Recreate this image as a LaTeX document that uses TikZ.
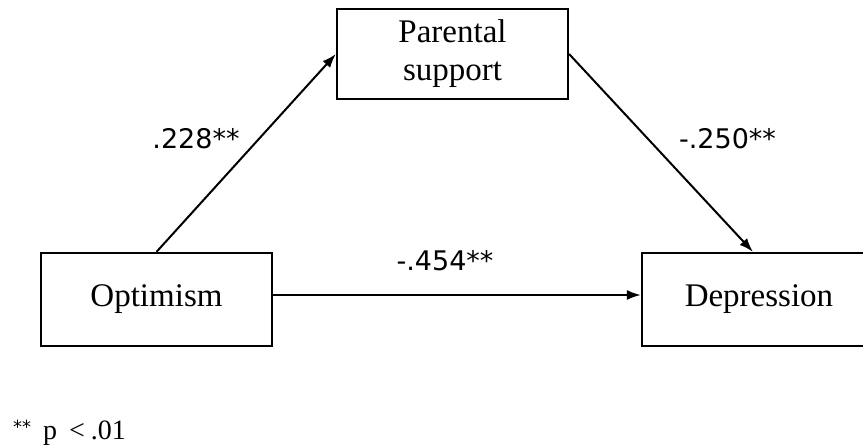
\documentclass[tikz,border=0pt]{standalone}
\usepackage{fontspec}
\setmainfont{Liberation Serif}
\newfontfamily\labfont{DejaVu Sans}
\usetikzlibrary{arrows.meta}
\tikzset{
  varbox/.style={draw=black, line width=2.2pt, inner sep=0pt, align=center,
    font=\fontsize{33}{38}\selectfont},
  link/.style={draw=black, line width=2pt, -{Latex[length=14pt,width=10pt]}},
  coef/.style={font=\labfont\fontsize{27}{30}\selectfont, inner sep=0pt}
}
\begin{document}
\begin{tikzpicture}[x=1pt,y=-1pt]
\useasboundingbox (0,0) rectangle (863,446);
\fill[white] (0,0) rectangle (863,446);
\begin{scope}
\clip (0,0) rectangle (863,446);
\node[varbox, minimum width=231pt, minimum height=90pt] (par) at (452.5,54) {Parental\\support};
\node[varbox, minimum width=231pt, minimum height=93pt] (opt) at (156.5,299.5) {Optimism};
\node[varbox, minimum width=234pt, minimum height=93pt] (dep) at (759,299.5) {Depression};
\end{scope}
\coordinate (depTop) at ([xshift=-6pt]dep.north);
\coordinate (optR) at ([yshift=4.5pt]opt.east);
\draw[link] (opt.north) -- (par.west);
\draw[link] (par.east) -- (depTop);
\draw[link] (optR) -- (optR -| dep.west);
\node[coef] (c1) at (196,139) {.228**};
\node[coef] (c2) at (727.5,138.5) {-.250**};
\node[coef] (c3) at (445,261) {-.454**};
\node[anchor=base west, inner sep=0pt, font=\fontsize{28}{30}\selectfont] (note) at (13,440)
  {\raisebox{6pt}{\labfont\fontsize{18}{20}\selectfont **}\hspace{12pt}p\hspace{12pt}<\hspace{6pt}.01};
\end{tikzpicture}
\end{document}
